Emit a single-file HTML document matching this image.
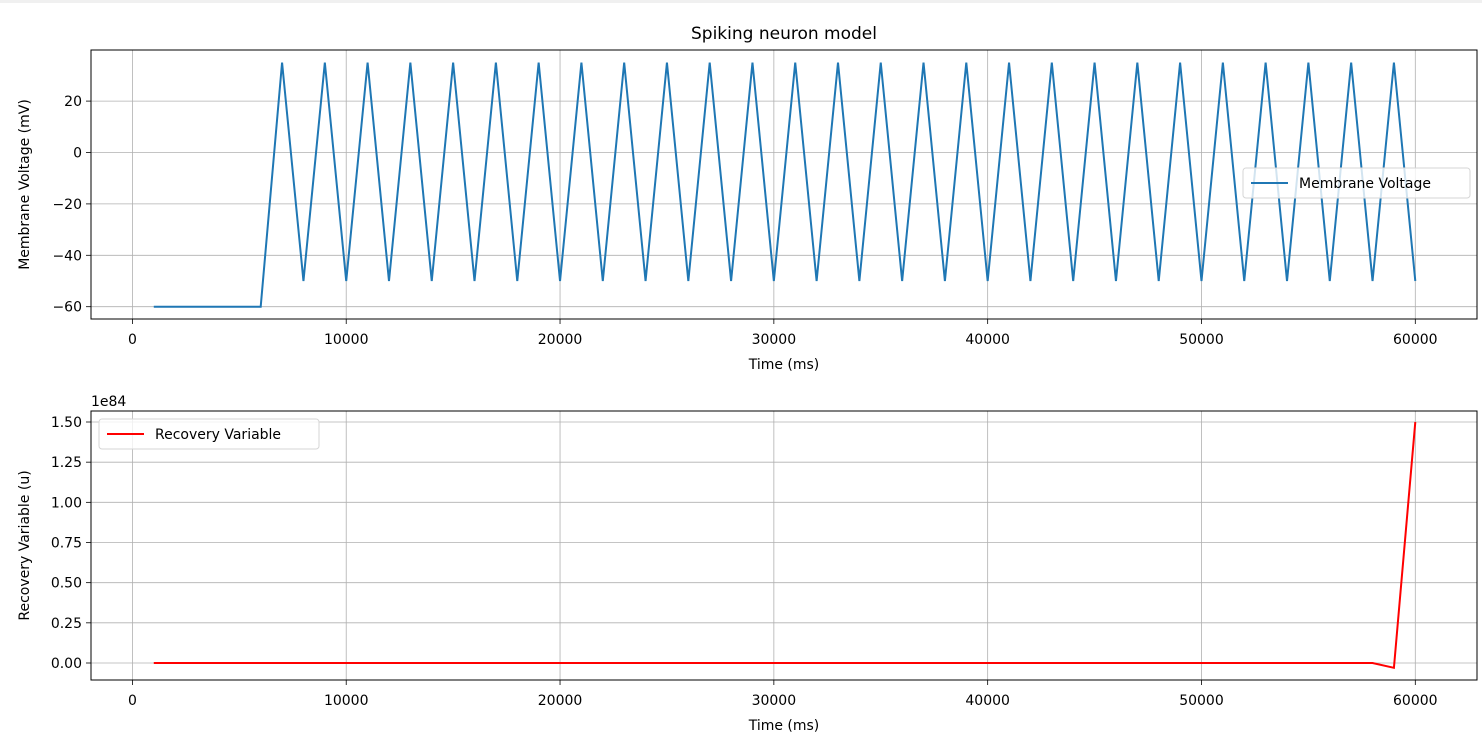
<!DOCTYPE html>
<html><head><meta charset="utf-8"><style>
body{margin:0;background:#fff;}
svg text{font-family:"DejaVu Sans","Liberation Sans",sans-serif;fill:#000;}
</style></head><body>
<svg id="chart" width="1482" height="750" xmlns="http://www.w3.org/2000/svg">
<rect x="0" y="0" width="1482" height="3" fill="#f0f0f0"/>
</svg>
<script>
const times=[1000,2000,3000,4000,5000,6000,7000,8000,9000,10000,11000,12000,13000,14000,15000,16000,17000,18000,19000,20000,21000,22000,23000,24000,25000,26000,27000,28000,29000,30000,31000,32000,33000,34000,35000,36000,37000,38000,39000,40000,41000,42000,43000,44000,45000,46000,47000,48000,49000,50000,51000,52000,53000,54000,55000,56000,57000,58000,59000,60000];
const voltage=[-60,-60,-60,-60,-60,-60,35,-50,35,-50,35,-50,35,-50,35,-50,35,-50,35,-50,35,-50,35,-50,35,-50,35,-50,35,-50,35,-50,35,-50,35,-50,35,-50,35,-50,35,-50,35,-50,35,-50,35,-50,35,-50,35,-50,35,-50,35,-50,35,-50,35,-50];
const recovery=[0,0,0,0,0,0,0,0,0,0,0,0,0,0,0,0,0,0,0,0,0,0,0,0,0,0,0,0,0,0,0,0,0,0,0,0,0,0,0,0,0,0,0,0,0,0,0,0,0,0,0,0,0,0,0,0,0,0,-0.03,1.5];
const xTicks=[0,10000,20000,30000,40000,50000,60000];
const vTicks=[20,0,-20,-40,-60];
const vTickLabels=["20","0","\u221220","\u221240","\u221260"];
const uTicks=[0,0.25,0.5,0.75,1.0,1.25,1.5];
const uTickLabels=["0.00","0.25","0.50","0.75","1.00","1.25","1.50"];

const svg=document.getElementById('chart');
const NS='http://www.w3.org/2000/svg';
function mk(tag,attrs,parent){const e=document.createElementNS(NS,tag);for(const k in attrs)e.setAttribute(k,attrs[k]);(parent||svg).appendChild(e);return e;}
const X=t=>132.4+t*(1415.3-132.4)/60000;
const Yv=v=>152.5-v*(51.4/20);
const Yu=u=>663-u*(241/1.5);

function panel(top,bottom,Y,yt,ytl,ylab,name){
  const L=91,R=1477;
  const g=mk('g',{});
  
  
  xTicks.forEach(t=>{
    const l=mk('line',{x1:X(t),x2:X(t),y1:top,y2:bottom,stroke:'#b0b0b0','stroke-width':0.8},g);
    
    mk('line',{x1:X(t),x2:X(t),y1:bottom,y2:bottom+5,stroke:'#000','stroke-width':0.8},g);
    const tx=mk('text',{x:X(t),y:bottom+25,'text-anchor':'middle','font-size':14},g);
    tx.textContent=String(t);
    
  });
  yt.forEach((v,i)=>{
    const l=mk('line',{x1:L,x2:R,y1:Y(v),y2:Y(v),stroke:'#b0b0b0','stroke-width':0.8},g);
    
    mk('line',{x1:L-5,x2:L,y1:Y(v),y2:Y(v),stroke:'#000','stroke-width':0.8},g);
    const tx=mk('text',{x:L-9,y:Y(v)+5,'text-anchor':'end','font-size':14},g);
    tx.textContent=ytl[i];
    
  });
  const xl=mk('text',{x:784,y:bottom+50,'text-anchor':'middle','font-size':14},g);
  xl.textContent='Time (ms)';
  
  const cy=(top+bottom)/2;
  const yl=mk('text',{x:0,y:0,'text-anchor':'middle','font-size':14,transform:`translate(29,${cy}) rotate(-90)`},g);
  yl.textContent=ylab;
  
  return g;
}
const g1=panel(50,319,Yv,vTicks,vTickLabels,'Membrane Voltage (mV)','voltage-panel');
const g2=panel(411,680,Yu,uTicks,uTickLabels,'Recovery Variable (u)','recovery-panel');

const p1=mk('polyline',{points:times.map((t,i)=>X(t)+','+Yv(voltage[i])).join(' '),fill:'none',stroke:'#1f77b4','stroke-width':2,'stroke-linejoin':'miter'},g1);

const p2=mk('polyline',{points:times.map((t,i)=>X(t)+','+Yu(recovery[i])).join(' '),fill:'none',stroke:'#ff0000','stroke-width':2},g2);


[[50,319,g1],[411,680,g2]].forEach(([t,b,g])=>{
  const f=mk('rect',{x:91,y:t,width:1386,height:b-t,fill:'none',stroke:'#000','stroke-width':1},g);
  
});

const title=mk('text',{x:784,y:39,'text-anchor':'middle','font-size':17});
title.textContent='Spiking neuron model';

const off=mk('text',{x:91,y:406,'font-size':14});
off.textContent='1e84';


function legend(x,y,w,color,label,name){
  const g=mk('g',{});
  
  
  mk('rect',{x:x,y:y,width:w,height:30,rx:3,fill:'#fff','fill-opacity':0.8,stroke:'#d6d6d6'},g);
  mk('line',{x1:x+8,x2:x+45,y1:y+15,y2:y+15,stroke:color,'stroke-width':2},g);
  const t=mk('text',{x:x+56,y:y+20,'font-size':14},g);t.textContent=label;
}
legend(1243,168,227,'#1f77b4','Membrane Voltage','legend-voltage');
legend(99,419,220,'#ff0000','Recovery Variable','legend-recovery');
</script>
</body></html>
